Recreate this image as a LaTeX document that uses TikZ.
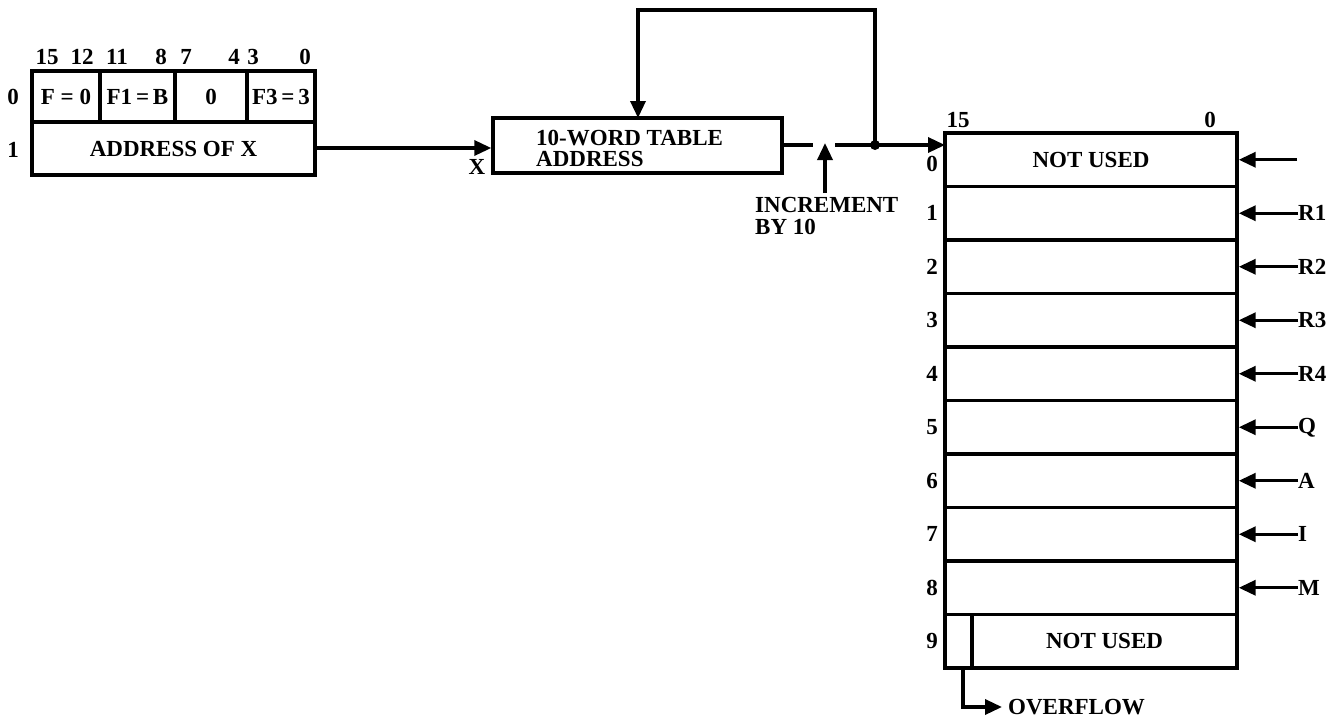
\documentclass[tikz,border=0pt]{standalone}
\usepackage{fontspec}
\setmainfont{Liberation Serif}
\usetikzlibrary{arrows.meta}
\begin{document}
\begin{tikzpicture}[x=1pt,y=-1pt,
  every node/.style={font=\fontsize{23}{21}\selectfont\bfseries},
  cell/.style={draw,line width=3.4pt,inner sep=0pt,anchor=center},
  lbl/.style={inner sep=0pt},
  wire/.style={line width=3.4pt},
  arr/.style={wire,-{Triangle[length=17pt,width=15pt]}}]
\useasboundingbox (0,0) rectangle (1343,720);
% left instruction word
\node[cell,minimum width=68,minimum height=51] (f0) at (66,96.5) {F = 0};
\node[cell,minimum width=75,minimum height=51] (f1) at (137.5,96.5) {F1\,=\,B};
\node[cell,minimum width=72,minimum height=51] (f2) at (211,96.5) {0};
\node[cell,minimum width=68,minimum height=51] (f3) at (281,96.5) {F3\,=\,3};
\node[cell,minimum width=283,minimum height=53] (adr) at (173.5,148.5) {ADDRESS OF X};
\foreach \t/\x in {15/47,12/82,11/117,8/161,7/186,4/234,3/253,0/305}
  \node[lbl] (b\t) at (\x,57) {\t};
\node[lbl] (w0) at (13,97) {0};
\node[lbl] (w1) at (13,150) {1};
% table address register
\node[cell,minimum width=289,minimum height=55] (tab) at (637.5,145.5) {};
\node[lbl,align=left,anchor=west] (tabt) at (536,148) {10-WORD TABLE\\ADDRESS};
\node[lbl] (xl) at (477,167) {X};
\draw[arr] (adr.east |- 0,148) -- (tab.west |- 0,148);
% feedback loop
\coordinate (j) at (875,145);
\coordinate (g1) at (813,145);
\coordinate (g2) at (835,145);
\draw[arr] (j) -- (875,10) -- (638,10) -- (638,118);
\draw[wire] (tab.east |- j) -- (g1);
\fill (j) circle (5pt);
% increment
\node[lbl,align=left,anchor=north west] (inc) at (755,197) {INCREMENT\\[1pt]BY 10};
\draw[arr] (825,193) -- (825,143);
% table
\foreach \i in {0,...,8}
  \node[cell,minimum width=292,minimum height=53.5] (r\i) at (1091,{133+53.5*(\i+0.5)}) {};
\node[cell,minimum width=27,minimum height=53.5] (r9a) at (958.5,641.25) {};
\node[cell,minimum width=265,minimum height=53.5] (r9) at (1104.5,641.25) {NOT USED};
\node[lbl] (nu0) at (r0) {NOT USED};
\draw[arr] (g2) -- (945,145);
\node[lbl] (h15) at (958,120) {15};
\node[lbl] (h0) at (1210,120) {0};
\node[lbl] (n0) at (932,164) {0};
\foreach \i in {1,...,8}
  \node[lbl] (n\i) at (932,{133+53.5*(\i+0.5)}) {\i};
\node[lbl] (n9) at (932,641.25) {9};
\coordinate (in0) at (1297,159.75);
\draw[arr] (in0) -- (r0.east |- in0);
\foreach \i/\t in {1/R1,2/R2,3/R3,4/R4,5/Q,6/A,7/I,8/M}{
  \node[lbl,anchor=west] (s\i) at (1298,{133+53.5*(\i+0.5)}) {\t};
  \draw[arr] (s\i.west) -- (r\i.east |- s\i.west);
}
% overflow
\node[lbl,anchor=west] (ovf) at (1008,707) {OVERFLOW};
\draw[arr,shorten >=6pt] (963,668) -- (963,707) -- (ovf.west);
\end{tikzpicture}
\end{document}
